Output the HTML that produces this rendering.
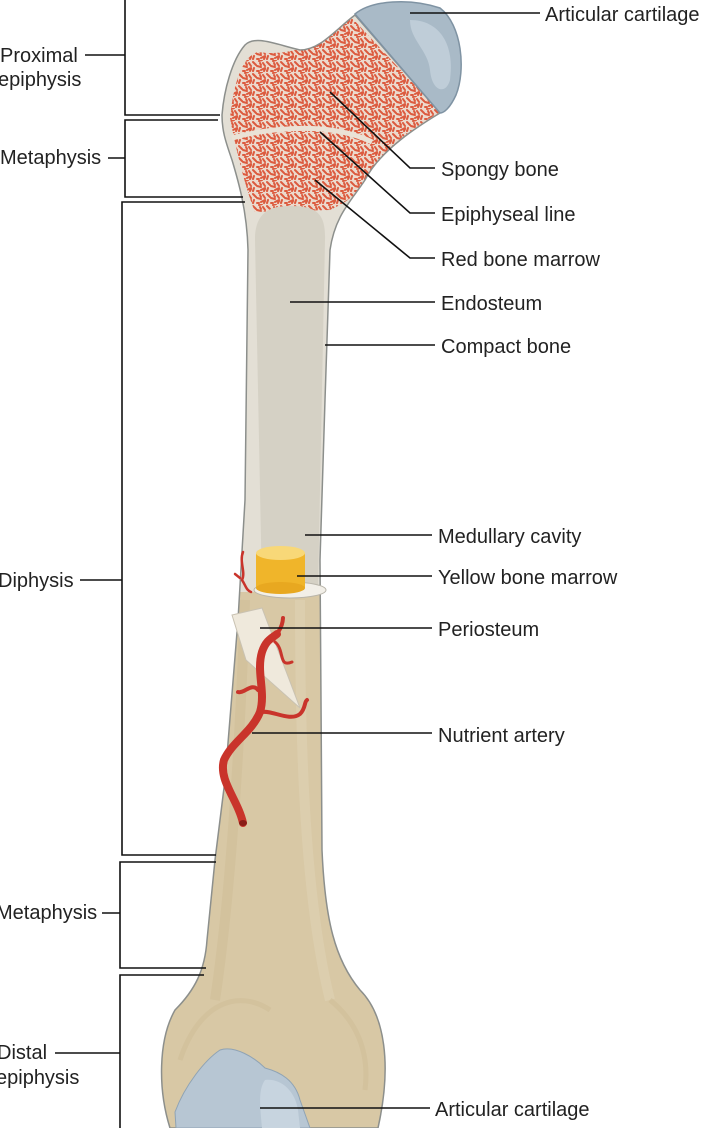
<!DOCTYPE html>
<html><head><meta charset="utf-8"><style>
html,body{margin:0;padding:0;background:#fff;width:701px;height:1128px;overflow:hidden}
text{font-family:"Liberation Sans",Arial,sans-serif;font-size:20px;fill:#222}
</style></head><body>
<svg width="701" height="1128" viewBox="0 0 701 1128" xmlns="http://www.w3.org/2000/svg">
<defs>
<pattern id="sp" width="14" height="12" patternUnits="userSpaceOnUse">
<rect width="14" height="12" fill="#ecd9cc"/>
<g stroke="#dc5a3e" stroke-width="2" stroke-linecap="round">
<path d="M1,2 l3,3"/><path d="M7,1 l3,-1"/><path d="M11,3 l2,3"/><path d="M2,8 l-1,3"/><path d="M5,6 l4,1"/><path d="M9,10 l4,-2"/><path d="M5,11 l2,0"/><path d="M12,11 l1,-2"/><path d="M8,3 l1,2"/>
</g>
</pattern>
<clipPath id="bone"><path id="bp" d="M222,115 C224,90 232,60 245,45 C255,35 275,44 300,50 C320,50 335,30 355,15 L440,113 C420,125 380,150 365,180 C352,200 335,215 330,250 L325,400 L320,560 L321,700 L322,850 C325,920 335,960 360,990 C385,1015 392,1065 378,1128 L170,1128 C158,1090 158,1040 175,1010 C195,990 205,970 207,940 L215,860 L225,780 L238,620 L245,500 L248,250 C247,210 238,180 232,160 C225,140 222,130 222,115 Z"/></clipPath>
</defs>

<path d="M222,115 C224,90 232,60 245,45 C255,35 275,44 300,50 C320,50 335,30 355,15 L440,113 C420,125 380,150 365,180 C352,200 335,215 330,250 L325,400 L320,560 L321,700 L322,850 C325,920 335,960 360,990 C385,1015 392,1065 378,1128 L170,1128 C158,1090 158,1040 175,1010 C195,990 205,970 207,940 L215,860 L225,780 L238,620 L245,500 L248,250 C247,210 238,180 232,160 C225,140 222,130 222,115 Z" fill="#d8c8a5"/>
<g clip-path="url(#bone)">
<rect x="150" y="0" width="320" height="592" fill="#e3dfd5"/>
<path d="M230,118 C234,80 243,56 258,52 C285,56 310,48 330,33 L352,18 L440,112 C410,130 380,150 362,185 C352,200 340,205 330,210 L255,212 C248,195 238,160 230,118 Z" fill="url(#sp)"/>
<path d="M232,138 C260,130 300,126 330,130 C345,132 360,136 372,142" stroke="#eae2d6" stroke-width="5" fill="none"/>
<path d="M255,240 C255,212 270,206 290,206 C315,206 326,212 325,240 L318,590 L262,590 Z" fill="#d5d1c5"/>
<path d="M245,600 C240,750 230,900 215,1000" stroke="#cdbb96" stroke-width="10" fill="none" opacity=".5"/>
<path d="M300,600 C300,750 305,900 330,1000" stroke="#e0d2b4" stroke-width="10" fill="none" opacity=".6"/>
<path d="M180,1060 C200,1000 240,990 270,1010" stroke="#cdbb95" stroke-width="5" fill="none" opacity=".5"/>
<path d="M330,1000 C355,1020 370,1050 365,1090" stroke="#cdbb95" stroke-width="5" fill="none" opacity=".5"/>
</g>
<use href="#bp" fill="none" stroke="#8c8f8c" stroke-width="1.5"/>

<ellipse cx="290" cy="590" rx="36" ry="8" fill="#f2efe8" stroke="#b9b5aa"/>
<rect x="256" y="553" width="49" height="35" fill="#f0b52a"/>
<ellipse cx="280.5" cy="588" rx="24.5" ry="6" fill="#e8a820"/>
<ellipse cx="280.5" cy="553" rx="24.5" ry="7" fill="#f8d878"/>

<polygon points="232,615 262,608 300,708 246,660" fill="#efe9dc" stroke="#c9c2b2" stroke-width="1"/>

<g fill="none" stroke="#c9342b" stroke-linecap="round">
<path d="M243,823 C238,800 218,780 224,760 C232,742 252,732 260,712 C266,692 256,672 262,652 C266,640 272,638 277,634" stroke-width="8"/>
<path d="M262,712 C272,710 290,722 300,714 C306,708 304,702 307,700" stroke-width="4"/>
<path d="M258,690 C252,682 244,694 238,692" stroke-width="4"/>
<path d="M262,652 C266,640 282,636 283,618" stroke-width="4"/>
<path d="M275,642 C285,650 278,668 292,662" stroke-width="3"/>
<path d="M243,552 C239,562 246,572 242,580 C246,586 246,590 251,592" stroke-width="2.5"/>
<path d="M240,578 L235,574" stroke-width="2.5"/>
</g>
<ellipse cx="243" cy="823" rx="4" ry="3" fill="#8a1d18"/>

<path d="M355,14 C372,0 410,-2 440,8 C462,25 466,70 456,95 C450,108 444,113 440,113 Z" fill="#a9bac7" stroke="#7f93a3" stroke-width="1.5"/>
<path d="M410,20 C440,20 455,45 450,80 C446,95 432,92 430,70 C428,50 410,40 410,20 Z" fill="#bfcdd8"/>
<path d="M176,1128 L175,1112 C185,1085 205,1060 220,1050 C235,1045 255,1058 265,1068 C280,1072 295,1080 300,1100 L310,1128 Z" fill="#b7c6d3" stroke="#8fa3b4" stroke-width="1"/>
<path d="M265,1080 C280,1078 295,1090 298,1110 L300,1128 L262,1128 C260,1105 258,1090 265,1080 Z" fill="#c7d4df"/>

<g stroke="#111" stroke-width="1.6" fill="none">
<path d="M410,13 H540"/>
<path d="M330,92 L410,168 H435"/>
<path d="M320,132 L410,213 H435"/>
<path d="M315,180 L410,258 H435"/>
<path d="M290,302 H435"/>
<path d="M325,345 H435"/>
<path d="M305,535 H432"/>
<path d="M297,576 H432"/>
<path d="M260,628 H432"/>
<path d="M252,733 H432"/>
<path d="M260,1108 H430"/>
<path d="M125,0 V115 H220"/>
<path d="M218,120 H125 V197 H243"/>
<path d="M245,202 H122 V855 H216"/>
<path d="M216,862 H120 V968 H206"/>
<path d="M204,975 H120 V1128"/>
<path d="M85,55 H125"/>
<path d="M108,158 H125"/>
<path d="M80,580 H122"/>
<path d="M102,913 H120"/>
<path d="M55,1053 H120"/>
</g>

<g style="font-size:20.5px">
<text x="545" y="21">Articular cartilage</text>
<text x="441" y="176">Spongy bone</text>
<text x="441" y="221">Epiphyseal line</text>
<text x="441" y="266">Red bone marrow</text>
<text x="441" y="310">Endosteum</text>
<text x="441" y="353">Compact bone</text>
<text x="438" y="543">Medullary cavity</text>
<text x="438" y="584">Yellow bone marrow</text>
<text x="438" y="636">Periosteum</text>
<text x="438" y="742">Nutrient artery</text>
<text x="435" y="1116">Articular cartilage</text>
</g>
<text x="0" y="62">Proximal</text>
<text x="-2" y="86">epiphysis</text>
<text x="0" y="164">Metaphysis</text>
<text x="-2" y="587">Diphysis</text>
<text x="-4" y="919">Metaphysis</text>
<text x="-3" y="1059">Distal</text>
<text x="-4" y="1084">epiphysis</text>
</svg>
</body></html>
